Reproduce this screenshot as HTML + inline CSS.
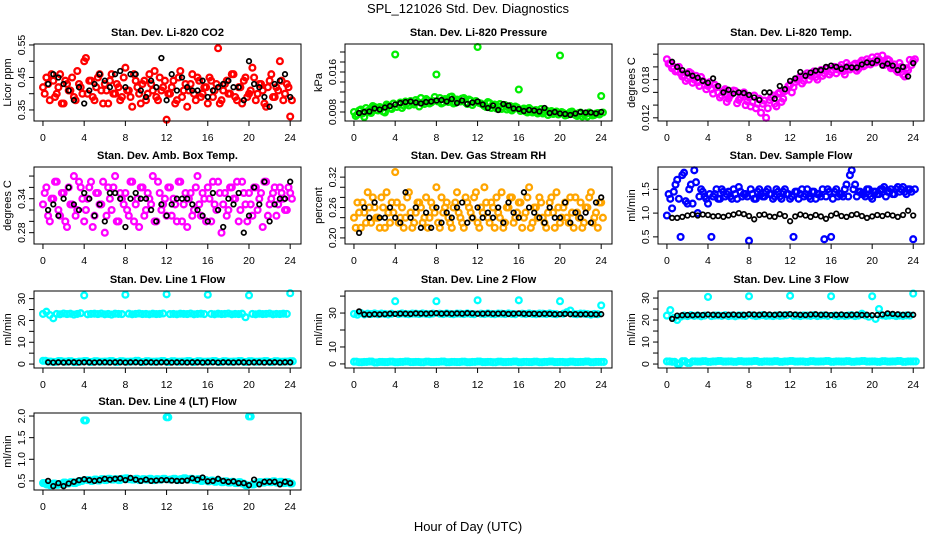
<!DOCTYPE html>
<html><head><meta charset="utf-8">
<style>
html,body{margin:0;padding:0;background:#fff;}
svg{display:block;font-family:"Liberation Sans",Arial,sans-serif;}
.t{font-size:11px;font-weight:bold;text-anchor:middle;}
.tk{font-size:10.5px;text-anchor:middle;}
</style></head>
<body>
<svg id="chart" width="936" height="540" viewBox="0 0 936 540">
<text x="468" y="13" font-size="13" text-anchor="middle">SPL_121026  Std. Dev. Diagnostics</text>
<text x="468" y="531" font-size="13" text-anchor="middle">Hour of Day (UTC)</text>
</svg>
<script>
// ---- data ----
const xTicks=[0,4,8,12,16,20,24];
const co2Color=[0.42,0.45,0.38,0.44,0.40,0.46,0.37,0.43,0.41,0.39,0.47,0.42,0.50,0.40,0.44,0.38,0.45,0.41,0.43,0.37,0.46,0.40,0.42,0.39,0.48,0.41,0.36,0.44,0.40,0.43,0.38,0.46,0.41,0.39,0.45,0.42,0.32,0.40,0.44,0.38,0.47,0.41,0.36,0.43,0.40,0.45,0.39,0.42,0.37,0.44,0.41,0.54,0.38,0.43,0.40,0.46,0.39,0.42,0.37,0.45,0.40,0.48,0.38,0.43,0.41,0.36,0.44,0.39,0.42,0.50,0.38,0.43,0.33];
const co2ColorB=[0.40,0.43,0.46,0.39,0.42,0.37,0.44,0.41,0.45,0.38,0.43,0.40,0.51,0.44,0.39,0.42,0.46,0.37,0.41,0.44,0.40,0.43,0.38,0.45,0.41,0.39,0.46,0.42,0.37,0.44,0.40,0.43,0.47,0.38,0.41,0.44,0.40,0.42,0.37,0.45,0.39,0.43,0.41,0.46,0.38,0.44,0.40,0.42,0.45,0.39,0.43,0.37,0.41,0.44,0.40,0.46,0.38,0.42,0.44,0.39,0.41,0.45,0.40,0.43,0.37,0.42,0.46,0.39,0.41,0.44,0.40,0.42,0.38];
const co2Black=[0.43,0.46,0.45,0.43,0.41,0.38,0.42,0.37,0.41,0.43,0.46,0.44,0.42,0.46,0.47,0.42,0.46,0.46,0.41,0.39,0.44,0.42,0.51,0.38,0.46,0.41,0.45,0.42,0.41,0.41,0.44,0.39,0.41,0.42,0.43,0.44,0.42,0.42,0.38,0.50,0.43,0.42,0.39,0.36,0.43,0.44,0.46,0.39];
const presColor=[0.008,0.0075,0.0085,0.007,0.0082,0.0078,0.009,0.0083,0.0088,0.0079,0.0092,0.0086,0.0195,0.0095,0.0088,0.0101,0.0093,0.0098,0.0104,0.0091,0.0099,0.0106,0.0097,0.0102,0.0155,0.0108,0.0099,0.0104,0.0110,0.0097,0.0105,0.0101,0.0108,0.0096,0.0103,0.0099,0.0210,0.0097,0.0092,0.0100,0.0088,0.0095,0.0091,0.0086,0.0094,0.0089,0.0083,0.0091,0.0125,0.0085,0.0081,0.0088,0.0079,0.0084,0.0080,0.0077,0.0083,0.0079,0.0076,0.0081,0.0193,0.0078,0.0074,0.0080,0.0076,0.0072,0.0079,0.0075,0.0071,0.0077,0.0074,0.0078,0.0112];
const presColorB=[0.0072,0.0083,0.0077,0.0088,0.0080,0.0092,0.0084,0.0090,0.0081,0.0095,0.0087,0.0097,0.0090,0.0099,0.0093,0.0097,0.0102,0.0095,0.0100,0.0108,0.0096,0.0103,0.0099,0.0110,0.0101,0.0097,0.0106,0.0100,0.0111,0.0098,0.0104,0.0107,0.0099,0.0105,0.0094,0.0102,0.0098,0.0095,0.0090,0.0098,0.0093,0.0087,0.0096,0.0090,0.0085,0.0092,0.0086,0.0089,0.0082,0.0087,0.0079,0.0085,0.0081,0.0077,0.0086,0.0080,0.0074,0.0082,0.0078,0.0075,0.0080,0.0073,0.0077,0.0081,0.0074,0.0078,0.0071,0.0076,0.0079,0.0073,0.0077,0.0075,0.0079];
const presBlack=[0.0078,0.008,0.0081,0.0087,0.0085,0.0089,0.0092,0.0095,0.0098,0.0100,0.0101,0.0099,0.0097,0.0100,0.0101,0.0103,0.0104,0.0101,0.0106,0.0098,0.0103,0.0096,0.0099,0.0101,0.0095,0.0088,0.0093,0.0084,0.0096,0.0093,0.0087,0.0086,0.0082,0.0084,0.0083,0.0081,0.0088,0.0078,0.0080,0.0077,0.0076,0.0074,0.0077,0.0080,0.0079,0.0079,0.0077,0.0080];
const tempColor=[0.0212,0.0205,0.0200,0.0195,0.0190,0.0187,0.0182,0.0190,0.0180,0.0176,0.0184,0.0172,0.0170,0.0165,0.0172,0.0160,0.0155,0.0165,0.0150,0.0158,0.0162,0.0148,0.0156,0.0140,0.0152,0.0145,0.0135,0.0150,0.0142,0.0120,0.0148,0.0155,0.0138,0.0160,0.0150,0.0165,0.0172,0.0168,0.0180,0.0185,0.0178,0.0190,0.0186,0.0193,0.0180,0.0195,0.0190,0.0198,0.0192,0.0200,0.0196,0.0203,0.0188,0.0201,0.0199,0.0205,0.0197,0.0210,0.0203,0.0208,0.0215,0.0207,0.0212,0.0218,0.0205,0.0210,0.0200,0.0195,0.0206,0.0188,0.0198,0.0211,0.0209];
const tempColorB=[0.0205,0.0198,0.0193,0.0200,0.0185,0.0178,0.0192,0.0175,0.0186,0.0170,0.0178,0.0165,0.0176,0.0158,0.0168,0.0152,0.0162,0.0145,0.0155,0.0163,0.0143,0.0152,0.0160,0.0146,0.0138,0.0155,0.0142,0.0128,0.0147,0.0135,0.0152,0.0142,0.0158,0.0145,0.0162,0.0170,0.0160,0.0176,0.0182,0.0174,0.0186,0.0180,0.0190,0.0184,0.0192,0.0186,0.0197,0.0188,0.0195,0.0190,0.0199,0.0193,0.0206,0.0196,0.0203,0.0194,0.0207,0.0201,0.0212,0.0204,0.0209,0.0216,0.0208,0.0203,0.0212,0.0198,0.0204,0.0192,0.0200,0.0185,0.0195,0.0203,0.0212];
const tempBlack=[0.0208,0.0200,0.0195,0.0190,0.0186,0.0183,0.0178,0.0175,0.0182,0.0170,0.0160,0.0164,0.0158,0.0160,0.0159,0.0156,0.0152,0.0148,0.0160,0.0160,0.0150,0.0170,0.0165,0.0178,0.0182,0.0192,0.0186,0.0191,0.0194,0.0195,0.0200,0.0202,0.0200,0.0197,0.0200,0.0199,0.0199,0.0204,0.0207,0.0206,0.0210,0.0202,0.0205,0.0202,0.0195,0.0200,0.0185,0.0206];
const ambColor=[0.33,0.36,0.30,0.34,0.37,0.31,0.35,0.29,0.33,0.38,0.32,0.36,0.30,0.34,0.37,0.31,0.35,0.33,0.28,0.36,0.32,0.38,0.30,0.34,0.35,0.31,0.37,0.33,0.29,0.36,0.32,0.34,0.38,0.30,0.35,0.33,0.31,0.36,0.34,0.30,0.37,0.33,0.29,0.35,0.32,0.38,0.31,0.34,0.36,0.30,0.33,0.37,0.28,0.35,0.32,0.36,0.34,0.30,0.37,0.33,0.35,0.31,0.36,0.34,0.29,0.37,0.33,0.35,0.31,0.36,0.34,0.32,0.35];
const ambColorB=[0.35,0.31,0.34,0.37,0.32,0.35,0.30,0.36,0.33,0.31,0.37,0.34,0.32,0.36,0.29,0.35,0.33,0.37,0.31,0.34,0.36,0.30,0.35,0.33,0.32,0.37,0.30,0.34,0.36,0.31,0.35,0.33,0.30,0.37,0.32,0.34,0.36,0.31,0.33,0.37,0.30,0.35,0.34,0.31,0.36,0.33,0.35,0.30,0.34,0.37,0.32,0.35,0.33,0.31,0.36,0.34,0.37,0.32,0.35,0.30,0.33,0.36,0.32,0.35,0.37,0.31,0.34,0.36,0.33,0.35,0.32,0.36,0.34];
const ambBlack=[0.32,0.33,0.31,0.34,0.36,0.33,0.32,0.35,0.34,0.31,0.33,0.30,0.35,0.35,0.34,0.29,0.34,0.35,0.34,0.34,0.32,0.30,0.33,0.31,0.33,0.34,0.34,0.34,0.33,0.32,0.31,0.30,0.35,0.32,0.29,0.34,0.33,0.35,0.28,0.31,0.36,0.33,0.37,0.30,0.33,0.34,0.34,0.37];
const rhColor=[0.24,0.27,0.22,0.25,0.29,0.23,0.26,0.24,0.28,0.22,0.25,0.27,0.33,0.23,0.26,0.24,0.29,0.22,0.25,0.27,0.23,0.28,0.24,0.26,0.30,0.22,0.25,0.27,0.23,0.26,0.29,0.24,0.22,0.27,0.25,0.28,0.23,0.26,0.30,0.24,0.27,0.22,0.25,0.29,0.23,0.26,0.28,0.24,0.27,0.22,0.25,0.30,0.23,0.26,0.28,0.24,0.22,0.27,0.25,0.29,0.23,0.26,0.24,0.28,0.22,0.25,0.27,0.23,0.26,0.29,0.24,0.22,0.27];
const rhColorB=[0.22,0.25,0.27,0.23,0.26,0.28,0.24,0.22,0.26,0.29,0.23,0.25,0.27,0.24,0.22,0.28,0.25,0.23,0.27,0.26,0.24,0.22,0.27,0.25,0.23,0.28,0.26,0.24,0.22,0.27,0.25,0.23,0.28,0.26,0.24,0.29,0.22,0.25,0.27,0.23,0.26,0.28,0.24,0.22,0.26,0.28,0.23,0.25,0.27,0.24,0.28,0.22,0.26,0.24,0.27,0.23,0.25,0.28,0.22,0.26,0.24,0.27,0.23,0.25,0.28,0.24,0.22,0.26,0.28,0.23,0.25,0.27,0.24];
const rhBlack=[0.21,0.26,0.24,0.27,0.24,0.24,0.26,0.24,0.23,0.29,0.24,0.26,0.22,0.25,0.22,0.26,0.23,0.25,0.24,0.26,0.27,0.23,0.24,0.26,0.24,0.25,0.24,0.26,0.23,0.27,0.25,0.24,0.29,0.26,0.25,0.24,0.23,0.26,0.24,0.24,0.27,0.23,0.25,0.24,0.25,0.23,0.27,0.28];
const flowColor=[0.95,1.3,1.45,1.7,0.5,1.85,1.2,1.6,1.9,1.0,1.5,1.35,1.2,0.5,1.4,1.3,1.5,1.35,1.45,1.3,1.4,1.55,1.35,1.4,0.42,1.4,1.3,1.5,1.35,1.45,1.4,1.3,1.5,1.35,1.45,1.4,1.3,0.5,1.45,1.4,1.35,1.5,1.3,1.45,1.4,1.35,0.45,1.5,0.5,1.45,1.35,1.4,1.5,1.35,1.9,1.6,1.45,1.4,1.35,1.5,1.3,1.45,1.4,1.5,1.35,1.45,1.4,1.5,1.45,1.55,1.4,1.5,0.45];
const flowColorB=[1.4,1.1,1.6,1.3,1.8,1.25,1.5,1.2,1.65,1.35,1.45,1.3,1.4,1.35,1.5,1.3,1.45,1.4,1.35,1.5,1.3,1.45,1.4,1.35,1.5,1.3,1.45,1.4,1.35,1.5,1.4,1.35,1.45,1.3,1.5,1.4,1.35,1.45,1.3,1.5,1.4,1.35,1.45,1.3,1.4,1.5,1.35,1.45,1.3,1.5,1.4,1.35,1.6,1.8,1.5,1.35,1.45,1.4,1.5,1.35,1.45,1.4,1.5,1.55,1.45,1.5,1.4,1.55,1.5,1.45,1.5,1.45,1.5];
const flowBlack=[0.9,0.9,0.92,0.95,0.97,0.95,0.97,0.96,0.93,0.94,0.92,0.95,0.97,1.0,0.98,0.94,0.87,0.96,0.97,0.93,0.92,0.98,0.94,0.83,0.93,0.97,0.95,0.92,0.96,0.93,0.88,0.95,0.99,0.94,0.92,0.96,0.98,0.94,0.90,0.93,0.96,0.94,0.97,0.95,0.92,0.96,1.05,0.95];
const l1Upper=[23,24,22.5,21,23,22.8,23.2,22.9,23.1,22.7,23,23.3,31.5,22.8,23,23.1,22.9,23.2,22.8,23,22.7,23.1,23,22.9,31.8,23.1,22.8,23,23.2,22.9,23,22.8,23.1,22.9,23,23.2,32,22.9,23,22.8,23.1,23,22.9,23.2,22.8,23,23.1,22.9,31.8,23,22.8,23.1,22.9,23,23.2,22.8,23,22.9,23.1,21.5,31.5,23,22.8,23.1,22.9,23,23.2,22.8,23,22.9,23.1,23,32.5];
const l1Lower=[1.5,1.2,1.0,1.4,1.1,1.3,0.9,1.2,1.4,1.0,1.3,1.1,1.2,1.4,1.0,1.3,1.1,1.2,1.5,1.0,1.3,1.1,1.2,1.4,1.0,1.3,1.1,1.2,1.4,1.0,1.3,1.1,1.2,1.4,1.0,1.3,1.1,1.2,1.4,1.0,1.3,1.1,1.2,1.4,1.0,1.3,1.1,1.2,1.3];
const l1Black=[0.8,0.7,0.8,0.7,0.8,0.8,0.7,0.8,0.8,0.7,0.8,0.8,0.7,0.8,0.8,0.7,0.8,0.8,0.7,0.8,0.8,0.7,0.8,0.8,0.7,0.8,0.8,0.7,0.8,0.8,0.7,0.8,0.8,0.7,0.8,0.8,0.7,0.8,0.8,0.7,0.8,0.8,0.7,0.8,0.8,0.7,0.8,0.8];
const l2Upper=[29.5,29,30,29.2,29.6,29.4,29.8,29.3,29.7,29.5,29.2,29.6,37,29.4,29.8,29.5,29.3,29.7,29.6,29.4,29.8,29.5,29.3,29.7,37,29.6,29.4,29.8,29.5,29.3,29.7,29.6,29.4,29.8,29.5,29.3,37.5,29.6,29.4,29.8,29.5,29.3,29.7,29.6,29.4,29.8,29.5,29.3,37.5,29.6,29.4,29.8,29.5,29.3,29.7,29.6,29.4,29.8,29.5,29.3,37,29.6,30.5,31.5,29.5,29.3,29.7,29.6,29.4,29.1,29.5,29.3,34.5];
const l2Lower=[1.3,1.0,1.2,1.4,0.9,1.2,1.1,1.3,1.0,1.2,1.4,1.1,1.2,1.0,1.3,1.1,1.2,1.4,1.0,1.2,1.1,1.3,1.0,1.2,1.4,1.1,1.2,1.0,1.3,1.1,1.2,1.4,1.0,1.2,1.1,1.3,1.0,1.2,1.4,1.1,1.2,1.0,1.3,1.1,1.2,1.4,1.0,1.2,1.2];
const l2Black=[31,29.2,29.1,29.3,29.2,29.4,29.6,29.5,29.7,29.6,29.5,29.8,29.7,29.6,29.8,29.9,29.7,29.8,29.6,29.8,29.7,29.9,29.8,29.6,29.7,29.8,29.6,29.7,29.8,29.5,29.7,29.8,29.6,29.5,29.7,29.4,29.6,29.5,29.3,29.4,29.5,29.3,29.4,29.2,29.3,29.4,29.2,29.3];
const l3Upper=[22,24.5,21,20,21.5,22,21.8,22.2,21.9,22.1,21.7,22,30.5,21.8,22,22.1,21.9,22.2,21.8,22,21.7,22.1,22,21.9,30.8,22.1,21.8,22,22.2,21.9,22,21.8,22.1,21.9,22,22.2,31,21.9,22,21.8,22.1,22,21.9,22.2,21.8,22,22.1,21.9,30.8,22,21.8,22.1,21.9,22,22.2,21.8,22,22.9,22.1,21.5,30.8,20.5,25,22.1,21.9,22,22.2,21.8,22,21.9,22.1,22,32];
const l3Lower=[1.2,1.0,0.2,1.3,0.5,1.2,1.1,1.3,1.0,1.2,1.4,1.1,1.2,1.0,1.3,1.1,1.2,1.4,1.0,1.2,1.1,1.3,1.0,1.2,1.4,1.1,1.2,1.0,1.3,1.1,1.2,1.4,1.0,1.2,1.1,1.3,1.0,1.2,1.4,1.1,1.2,1.0,1.3,1.1,1.2,1.4,1.0,1.2,1.2];
const l3Black=[20.5,22,22.2,22.3,22.2,22.4,22.3,22.5,22.4,22.3,22.2,22.4,22.5,22.3,22.4,22.6,22.5,22.4,22.6,22.5,22.4,22.6,22.5,22.7,22.5,22.4,22.3,22.5,22.6,22.4,22.5,22.3,22.4,22.5,22.3,22.4,22.5,22.3,22.4,22.2,22.3,22.5,23,22.8,22.6,22.4,22.5,22.4];
const l4Color=[0.45,0.42,0.4,0.44,0.41,0.43,0.46,0.44,0.47,0.45,0.48,0.5,1.9,0.52,0.5,0.53,0.51,0.54,0.52,0.55,0.53,0.54,0.52,0.55,0.56,0.54,0.53,0.55,0.52,0.54,0.53,0.55,0.52,0.54,0.53,0.55,1.97,0.53,0.55,0.52,0.54,0.56,0.53,0.55,0.52,0.54,0.5,0.52,0.49,0.51,0.48,0.5,0.47,0.49,0.46,0.48,0.45,0.47,0.44,0.4,1.99,0.42,0.45,0.47,0.46,0.48,0.47,0.49,0.46,0.48,0.45,0.47,0.44];
const l4Black=[0.5,0.38,0.45,0.38,0.44,0.48,0.52,0.54,0.52,0.5,0.52,0.55,0.53,0.55,0.56,0.52,0.57,0.53,0.5,0.53,0.5,0.51,0.52,0.52,0.51,0.5,0.5,0.51,0.56,0.53,0.58,0.49,0.5,0.55,0.5,0.48,0.49,0.45,0.45,0.4,0.53,0.42,0.48,0.48,0.48,0.42,0.48,0.45];

// ---- layout ----
const NS="http://www.w3.org/2000/svg";
const svg=document.getElementById('chart');
const colL=[34,345,658], colR=[301,612,924], rowT=[44,167,291,413], H=77;
const XMIN=-0.87, XMAX=25.05;
function mk(tag,attrs,parent){const e=document.createElementNS(NS,tag);for(const k in attrs)e.setAttribute(k,attrs[k]);(parent||svg).appendChild(e);return e;}

const panels=[
 {name:'co2',title:'Stan. Dev. Li-820 CO2',yl:'Licor ppm',c:0,r:0,ymin:0.316,ymax:0.553,ticks:[0.35,0.40,0.45,0.50,0.55],labels:['0.35','','0.45','','0.55'],series:[[co2Color,1/3,0,'#ff0000'],[co2ColorB,1/3,1/6,'#ff0000'],[co2Black,0.5,0.5,'#000']]},
 {name:'pressure',title:'Stan. Dev. Li-820 Pressure',yl:'kPa',c:1,r:0,ymin:0.0062,ymax:0.0216,ticks:[0.008,0.010,0.012,0.014,0.016,0.018,0.020],labels:['0.008','','','','0.016','',''],series:[[presColor,1/3,0,'#00ee00'],[presColorB,1/3,1/6,'#00ee00'],[presBlack,0.5,0.5,'#000']]},
 {name:'temp',title:'Stan. Dev. Li-820 Temp.',yl:'degrees C',c:2,r:0,ymin:0.0115,ymax:0.0236,ticks:[0.012,0.014,0.016,0.018,0.020,0.022],labels:['0.012','','','0.018','',''],series:[[tempColor,1/3,0,'#ff00ff'],[tempColorB,1/3,1/6,'#ff00ff'],[tempBlack,0.5,0.5,'#000']]},
 {name:'amb-box-temp',title:'Stan. Dev. Amb. Box Temp.',yl:'degrees C',c:0,r:1,ymin:0.26,ymax:0.396,ticks:[0.28,0.30,0.32,0.34,0.36,0.38],labels:['0.28','','','0.34','',''],series:[[ambColor,1/3,0,'#ff00ff'],[ambColorB,1/3,1/6,'#ff00ff'],[ambBlack,0.5,0.5,'#000']]},
 {name:'gas-rh',title:'Stan. Dev. Gas Stream RH',yl:'percent',c:1,r:1,ymin:0.188,ymax:0.34,ticks:[0.20,0.22,0.24,0.26,0.28,0.30,0.32],labels:['0.20','','','0.26','','','0.32'],series:[[rhColor,1/3,0,'#ffa500'],[rhColorB,1/3,1/6,'#ffa500'],[rhBlack,0.5,0.5,'#000']]},
 {name:'sample-flow',title:'Stan. Dev. Sample Flow',yl:'ml/min',c:2,r:1,ymin:0.35,ymax:1.97,ticks:[0.5,1.0,1.5],labels:['0.5','1.0','1.5'],series:[[flowColor,1/3,0,'#0000ff'],[flowColorB,1/3,1/6,'#0000ff'],[flowBlack,0.5,0.5,'#000']]},
 {name:'line1-flow',title:'Stan. Dev. Line 1 Flow',yl:'ml/min',c:0,r:2,ymin:-1.8,ymax:33.5,ticks:[0,5,10,15,20,25,30],labels:['0','','10','','20','','30'],series:[[l1Upper,1/3,0,'#00ffff'],[l1Lower,0.5,0,'#00ffff'],[l1Lower,0.5,0.25,'#00ffff'],[l1Black,0.5,0.5,'#000']]},
 {name:'line2-flow',title:'Stan. Dev. Line 2 Flow',yl:'ml/min',c:1,r:2,ymin:-2.4,ymax:43,ticks:[0,10,20,30,40],labels:['0','10','','30',''],series:[[l2Upper,1/3,0,'#00ffff'],[l2Lower,0.5,0,'#00ffff'],[l2Lower,0.5,0.25,'#00ffff'],[l2Black,0.5,0.5,'#000']]},
 {name:'line3-flow',title:'Stan. Dev. Line 3 Flow',yl:'ml/min',c:2,r:2,ymin:-1.8,ymax:33.2,ticks:[0,5,10,15,20,25,30],labels:['0','','10','','20','','30'],series:[[l3Upper,1/3,0,'#00ffff'],[l3Lower,0.5,0,'#00ffff'],[l3Lower,0.5,0.25,'#00ffff'],[l3Black,0.5,0.5,'#000']]},
 {name:'line4-flow',title:'Stan. Dev. Line 4 (LT) Flow',yl:'ml/min',c:0,r:3,ymin:0.29,ymax:2.07,ticks:[0.5,1.0,1.5,2.0],labels:['0.5','1.0','1.5','2.0'],series:[[l4Color,1/3,0,'#00ffff'],[l4Color,1/3,1/6,'#00ffff'],[l4Black,0.5,0.5,'#000']]}
];

panels.forEach(p=>{
 const L=colL[p.c],R=colR[p.c],T=rowT[p.r],B=T+H;
 const xs=v=>L+(v-XMIN)/(XMAX-XMIN)*(R-L);
 const ys=v=>B-(v-p.ymin)/(p.ymax-p.ymin)*H;
 const g=mk('g',{});
 
 
 const t=mk('text',{x:(L+R)/2,y:T-8,class:'t'},g);t.textContent=p.title;
 
 
 const yl=mk('text',{x:0,y:0,'font-size':'11','text-anchor':'middle',transform:`translate(${L-23},${(T+B)/2}) rotate(-90)`},g);yl.textContent=p.yl;
 
 
 const pg=mk('g',{fill:'none'},g);
 
 
 p.series.forEach(s=>{
  const [arr,step,off,col]=s;
  const blk=col==='#000';
  arr.forEach((v,i)=>{
   const c=mk('circle',{cx:xs(off+i*step).toFixed(1),cy:ys(v).toFixed(1),r:blk?2.3:2.9,stroke:col,'stroke-width':blk?1.7:2.3},pg);
   
   
  });
 });
 const box=mk('rect',{x:L,y:T,width:R-L,height:H,fill:'none',stroke:'#000','stroke-width':'1'},g);
 
 
 xTicks.forEach(v=>{
  mk('line',{x1:xs(v),x2:xs(v),y1:B,y2:B+5,stroke:'#000'},g);
  const tx=mk('text',{x:xs(v),y:B+20,class:'tk'},g);tx.textContent=v;
  
  
 });
 p.ticks.forEach((v,i)=>{
  mk('line',{x1:L,x2:L-5,y1:ys(v),y2:ys(v),stroke:'#000'},g);
  if(p.labels[i]){
   const ty=mk('text',{x:0,y:0,class:'tk',transform:`translate(${L-9},${ys(v)}) rotate(-90)`},g);ty.textContent=p.labels[i];
   
   
  }
 });
});
</script>
</body></html>
